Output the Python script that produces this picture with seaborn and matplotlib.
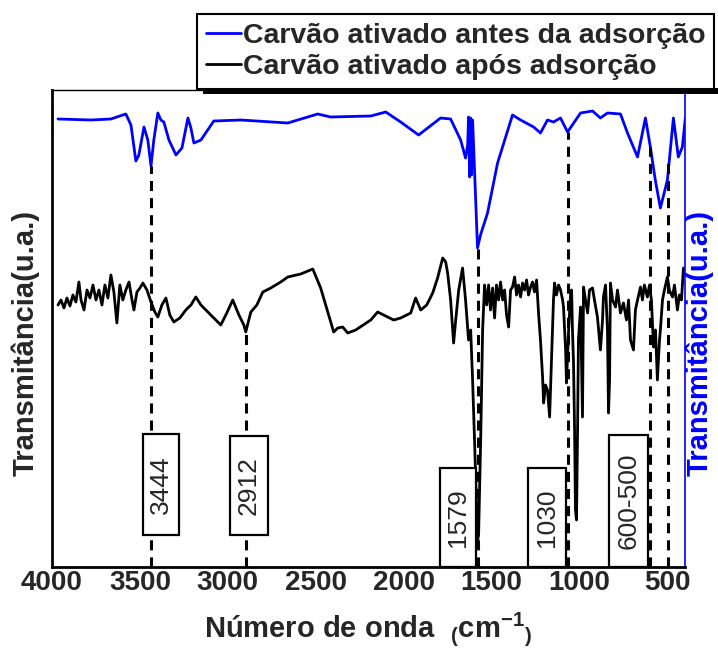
import matplotlib
matplotlib.use("Agg")
import matplotlib.pyplot as plt
import numpy as np
import pandas as pd
import seaborn as sns
from matplotlib.patches import Rectangle
from matplotlib.font_manager import FontProperties

# ---------------- data ----------------
series_names = ["Carvão ativado antes da adsorção", "Carvão ativado após adsorção"]

wn_before = [3966, 3778, 3665, 3580, 3551, 3523, 3506, 3477, 3455, 3437, 3421, 3398, 3381, 3364,
             3335, 3295, 3261, 3227, 3210, 3193, 3153, 3080, 2926, 2659, 2489, 2415, 2187, 2102,
             2017, 1915, 1790, 1733, 1676, 1648, 1636, 1631, 1625, 1619, 1614, 1608, 1597, 1580,
             1563, 1523, 1466, 1381, 1335, 1261, 1222, 1182, 1148, 1108, 1068, 994, 926, 881, 841,
             767, 727, 670, 625, 597, 569, 540, 500, 466, 438, 415, 398]
t_before = [448, 447, 448, 453, 442, 406, 412, 440, 427, 401, 427, 454, 447, 445,
            427, 412, 419, 449, 439, 424, 427, 446, 447, 444, 453, 450, 451, 455,
            445, 432, 449, 448, 427, 409, 422, 450, 390, 449, 392, 447, 397, 319,
            332, 354, 404, 452, 447, 440, 434, 447, 445, 449, 435, 454, 456, 449, 454,
            453, 434, 410, 449, 420, 387, 359, 387, 449, 410, 420, 449]

wn_after = [3966, 3949, 3932, 3915, 3898, 3881, 3864, 3847, 3835, 3818, 3801, 3784, 3767, 3750,
            3733, 3716, 3699, 3682, 3665, 3648, 3631, 3614, 3597, 3580, 3562, 3545, 3534, 3517,
            3500, 3483, 3460, 3437, 3415, 3398, 3375, 3352, 3330, 3307, 3273, 3239, 3210, 3182,
            3153, 3097, 3040, 3006, 2972, 2937, 2909, 2898, 2881, 2869, 2835, 2801, 2756, 2699,
            2659, 2585, 2517, 2472, 2398, 2375, 2347, 2318, 2273, 2187, 2148, 2102, 2057, 2017,
            1960, 1932, 1903, 1869, 1835, 1807, 1778, 1761, 1750, 1733, 1716, 1704, 1687, 1665,
            1648, 1631, 1619, 1608, 1597, 1585, 1579, 1574, 1562,
            1551, 1540, 1528, 1517, 1506, 1494, 1483, 1472, 1460, 1449,
            1437, 1426, 1415, 1403, 1392, 1381, 1369, 1358, 1347, 1335,
            1324, 1312, 1301, 1290, 1278, 1267, 1256, 1244, 1233, 1222,
            1210, 1204, 1193, 1182, 1170, 1159, 1148, 1142, 1131, 1119,
            1108, 1096, 1091, 1079, 1074, 1062, 1051, 1045, 1040, 1034,
            1028, 1023, 1017, 1011, 1006, 994, 983, 977, 966, 954,
            943, 926, 915, 898, 881, 869, 864, 852, 841, 835,
            829, 824, 812, 795, 784, 767, 750, 733, 721, 710,
            693, 682, 670, 653, 642, 631, 614, 602, 591, 579,
            568, 557, 545, 540, 528, 517, 500, 489, 471, 460,
            443, 432, 420, 409, 398]
t_after = [262, 267, 259, 269, 261, 272, 265, 285, 267, 257, 277, 269, 282, 267,
           277, 262, 282, 269, 292, 275, 244, 282, 267, 277, 285, 267, 257, 275,
           279, 284, 277, 265, 255, 250, 262, 269, 252, 245, 249, 257, 262, 270,
           262, 252, 242, 254, 267, 252, 242, 235, 247, 255, 262, 275, 279, 285,
           290, 293, 298, 279, 235, 239, 240, 234, 237, 247, 255, 251, 247, 249,
           254, 269, 257, 262, 274, 289, 309, 305, 294, 267, 224, 247, 277, 299,
           267, 227, 237, 187, 127, 57, 27, 32, 127,
           237, 282, 262, 282, 257, 279, 249, 282, 267, 285,
           267, 277, 252, 240, 277, 280, 290, 272, 282, 270,
           284, 277, 287, 272, 280, 285, 275, 287, 254, 227,
           190, 164, 182, 177, 150, 207, 267, 284, 272, 282,
           277, 267, 260, 217, 184, 237, 272, 277, 237, 204,
           137, 57, 47, 137, 227, 260, 150, 280, 267, 254,
           277, 279, 267, 250, 217, 247, 270, 282, 237, 154,
           187, 284, 267, 260, 277, 254, 264, 247, 267, 227,
           217, 257, 267, 280, 267, 282, 270, 282, 267, 220,
           237, 187, 227, 237, 267, 277, 290, 277, 270, 282,
           257, 272, 267, 299, 292]

peak_labels = ["3444", "2912", "1579", "1030", "600-500"]
marker_wn = [3437, 2898, 1579, 1068, 597, 494]
marker_top = [401, 235, 319, 435, 420, 410]
x_ticks = [4000, 3500, 3000, 2500, 2000, 1500, 1000, 500]

# ---------------- style ----------------
sns.set_style("white")
plt.rcParams['font.family'] = ['Liberation Sans', 'DejaVu Sans']
plt.rcParams['mathtext.fontset'] = 'custom'
plt.rcParams['mathtext.rm'] = 'Liberation Sans'
plt.rcParams['mathtext.bf'] = 'Liberation Sans:bold'

W, H = 718, 655
fig = plt.figure(figsize=(W / 100, H / 100), dpi=100)
ax = fig.add_axes([52 / W, 88 / H, 633 / W, 477 / H])

df_b = pd.DataFrame({"wn": wn_before, "t": t_before})
df_a = pd.DataFrame({"wn": wn_after, "t": t_after})
sns.lineplot(data=df_b, x="wn", y="t", color="#0000ff", lw=2, ax=ax,
             estimator=None, sort=False, label=series_names[0])
sns.lineplot(data=df_a, x="wn", y="t", color="black", lw=2, ax=ax,
             estimator=None, sort=False, label=series_names[1])

ax.vlines(marker_wn, 0, marker_top, colors="black", linestyles=(0, (3.3, 2.3)), lw=2.2, zorder=3)

# boxed labels: (center wn, bottom, top, width)
box_geom = [(3380, 32, 133, 205), (2881, 32, 131, 215), (1693, 0, 99, 205),
            (1187, 0, 99, 215), (719, 0, 132, 222)]
for lab, (cx, y0, y1, w) in zip(peak_labels, box_geom):
    ax.add_patch(Rectangle((cx - w / 2, y0), w, y1 - y0, facecolor="white",
                           edgecolor="black", lw=1.6, zorder=4, clip_on=False))
    ax.text(cx, (y0 + y1) / 2, lab, rotation=90, ha="center", va="center",
            fontsize=19, zorder=5)

ax.set_xlim(4000, 400)
ax.set_ylim(0, 477)
ax.set_xticks(x_ticks)
ax.set_xticklabels([str(v) for v in x_ticks], fontsize=20, fontweight="bold")
ax.set_yticks([])
ax.tick_params(axis="x", length=0, pad=2)

for side in ["left", "bottom"]:
    ax.spines[side].set_color("black")
    ax.spines[side].set_linewidth(2)
ax.spines["top"].set_color("black")
ax.spines["top"].set_linewidth(1)
ax.spines["right"].set_color("#0000ff")
ax.spines["right"].set_linewidth(1.2)

ax.set_xlabel(r"Número de onda  $_\mathbf{(}\mathbf{cm}^{\mathbf{-1}}{}_\mathbf{)}$",
              fontsize=21, fontweight="bold")
ax.xaxis.set_label_coords(0.5, -0.09)
ax.set_ylabel("Transmitância(u.a.)", fontsize=21, fontweight="bold")
ax.yaxis.set_label_coords(-0.02, 0.47)
fig.text(699 / W, 1 - 343 / H, "Transmitância(u.a.)", rotation=90, ha="center",
         va="center", fontsize=21, fontweight="bold", color="#0000ff")

leg = ax.legend(loc="upper left", bbox_to_anchor=(197 / W, 1 - 14 / H),
                bbox_transform=fig.transFigure,
                prop=FontProperties(family="Liberation Sans", weight="bold", size=20.5),
                frameon=True, fancybox=False, edgecolor="black", framealpha=1,
                borderpad=0.3, handlelength=1.25, handletextpad=0.05,
                labelspacing=0.2, borderaxespad=0)
leg.get_frame().set_linewidth(1.5)

fig.add_artist(Rectangle((203 / W, 1 - 94 / H), (W - 203) / W, 6 / H,
                         transform=fig.transFigure, facecolor="black", edgecolor="none"))

fig.savefig("out.png", dpi=100)
